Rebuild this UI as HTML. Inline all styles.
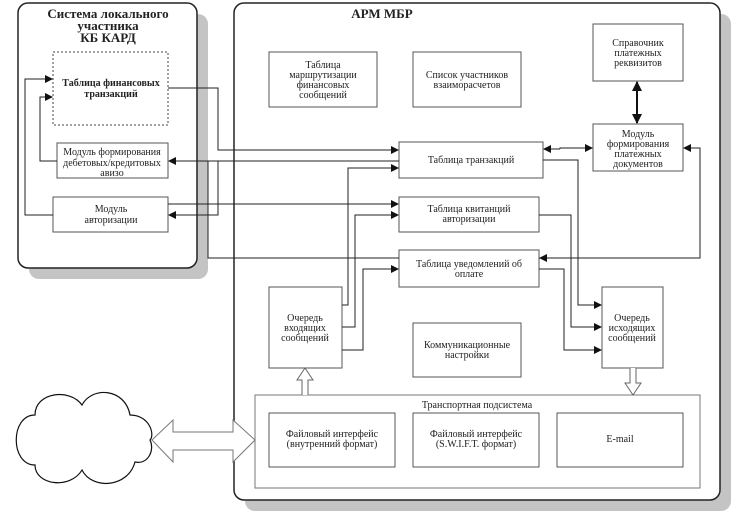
<!DOCTYPE html>
<html><head><meta charset="utf-8"><style>
html,body{margin:0;padding:0;background:#fff;}
svg{display:block;}
text{font-family:"Liberation Serif",serif;fill:#222;}
.s{font-size:10px;}
.b{font-size:13px;font-weight:bold;}
.bx{fill:#fff;stroke:#555;stroke-width:1;}
.l{fill:none;stroke:#222;stroke-width:1;}
</style></head><body>
<svg width="734" height="518" viewBox="0 0 734 518" xmlns="http://www.w3.org/2000/svg">
<defs>
<marker id="a" markerWidth="8" markerHeight="8" refX="7" refY="4" orient="auto" markerUnits="userSpaceOnUse"><path d="M0,0 L8,4 L0,8 Z" fill="#111"/></marker>
<marker id="a2" markerWidth="10" markerHeight="10" refX="9" refY="5" orient="auto" markerUnits="userSpaceOnUse"><path d="M0,0 L10,5 L0,10 Z" fill="#111"/></marker>
</defs>
<!-- left container -->
<rect x="29" y="14" width="179" height="265" rx="10" fill="#c4c4c4"/>
<rect x="18" y="3" width="179" height="265" rx="10" fill="#fff" stroke="#222" stroke-width="1.5"/>
<text class="b" x="108" y="18" text-anchor="middle">Система локального</text>
<text class="b" x="108" y="30" text-anchor="middle">участника</text>
<text class="b" x="108" y="42" text-anchor="middle">КБ КАРД</text>
<!-- right container -->
<rect x="245" y="14" width="486" height="497" rx="10" fill="#c4c4c4"/>
<rect x="234" y="3" width="486" height="497" rx="10" fill="#fff" stroke="#222" stroke-width="1.5"/>
<text class="b" x="382" y="18" text-anchor="middle">АРМ МБР</text>

<!-- left boxes -->
<rect x="53" y="52" width="115" height="73" fill="#fff" stroke="#444" stroke-dasharray="2,2"/>
<text x="111" y="86" text-anchor="middle" style="font-size:10px;font-weight:bold">Таблица финансовых</text>
<text x="111" y="97" text-anchor="middle" style="font-size:10px;font-weight:bold">транзакций</text>
<rect class="bx" x="57" y="143" width="111" height="35"/>
<text class="s" x="112" y="155" text-anchor="middle">Модуль формирования</text>
<text class="s" x="112" y="166" text-anchor="middle">дебетовых/кредитовых</text>
<text class="s" x="112" y="176" text-anchor="middle">авизо</text>
<rect class="bx" x="53" y="197" width="115" height="35"/>
<text class="s" x="111" y="212" text-anchor="middle">Модуль</text>
<text class="s" x="111" y="223" text-anchor="middle">авторизации</text>

<!-- right boxes -->
<rect class="bx" x="269" y="52" width="108" height="55"/>
<text class="s" x="323" y="68" text-anchor="middle">Таблица</text>
<text class="s" x="323" y="78" text-anchor="middle">маршрутизации</text>
<text class="s" x="323" y="88" text-anchor="middle">финансовых</text>
<text class="s" x="323" y="98" text-anchor="middle">сообщений</text>
<rect class="bx" x="413" y="52" width="108" height="55"/>
<text class="s" x="467" y="78" text-anchor="middle">Список участников</text>
<text class="s" x="467" y="88" text-anchor="middle">взаиморасчетов</text>
<rect class="bx" x="593" y="24" width="90" height="57"/>
<text class="s" x="638" y="46" text-anchor="middle">Справочник</text>
<text class="s" x="638" y="56" text-anchor="middle">платежных</text>
<text class="s" x="638" y="66" text-anchor="middle">реквизитов</text>
<rect class="bx" x="593" y="124" width="90" height="47"/>
<text class="s" x="638" y="137" text-anchor="middle">Модуль</text>
<text class="s" x="638" y="147" text-anchor="middle">формирования</text>
<text class="s" x="638" y="157" text-anchor="middle">платежных</text>
<text class="s" x="638" y="167" text-anchor="middle">документов</text>
<rect class="bx" x="399" y="142" width="144" height="36"/>
<text class="s" x="471" y="163" text-anchor="middle">Таблица транзакций</text>
<rect class="bx" x="399" y="197" width="140" height="35"/>
<text class="s" x="469" y="212" text-anchor="middle">Таблица квитанций</text>
<text class="s" x="469" y="222" text-anchor="middle">авторизации</text>
<rect class="bx" x="399" y="250" width="140" height="37"/>
<text class="s" x="469" y="267" text-anchor="middle">Таблица уведомлений об</text>
<text class="s" x="469" y="277" text-anchor="middle">оплате</text>
<rect class="bx" x="269" y="287" width="73" height="81"/>
<text class="s" x="305" y="321" text-anchor="middle">Очередь</text>
<text class="s" x="305" y="331" text-anchor="middle">входящих</text>
<text class="s" x="305" y="341" text-anchor="middle">сообщений</text>
<rect class="bx" x="413" y="323" width="108" height="54"/>
<text class="s" x="467" y="348" text-anchor="middle">Коммуникационные</text>
<text class="s" x="467" y="358" text-anchor="middle">настройки</text>
<rect class="bx" x="602" y="287" width="61" height="81"/>
<text class="s" x="632" y="321" text-anchor="middle">Очередь</text>
<text class="s" x="632" y="331" text-anchor="middle">исходящих</text>
<text class="s" x="632" y="341" text-anchor="middle">сообщений</text>

<!-- transport -->
<rect x="255" y="395" width="445" height="93" fill="#fff" stroke="#777"/>
<text class="s" x="477" y="408" text-anchor="middle">Транспортная подсистема</text>
<rect class="bx" x="269" y="413" width="126" height="54"/>
<text class="s" x="332" y="437" text-anchor="middle">Файловый интерфейс</text>
<text class="s" x="332" y="447" text-anchor="middle">(внутренний формат)</text>
<rect class="bx" x="413" y="413" width="126" height="54"/>
<text class="s" x="476" y="437" text-anchor="middle">Файловый интерфейс</text>
<text class="s" x="476" y="447" text-anchor="middle">(S.W.I.F.T. формат)</text>
<rect class="bx" x="557" y="413" width="126" height="54"/>
<text class="s" x="620" y="442" text-anchor="middle">E-mail</text>

<!-- hollow arrows -->
<path d="M302,395 V380 H297 L305,368 L313,380 H308 V395" fill="#fff" stroke="#666"/>
<path d="M630,368 V383 H625 L633,395 L641,383 H636 V368" fill="#fff" stroke="#666"/>
<path d="M152,440 L173,420 V432 H233 V420 L255,440 L233,462 V450 H173 V462 Z" fill="#fff" stroke="#777"/>
<!-- cloud -->
<path d="M35,415 C35,392 70,388 82,405 C92,386 125,388 130,415 C150,415 155,435 150,440 C155,450 148,465 135,462 C128,488 92,490 82,470 C70,490 35,485 35,465 C10,465 10,415 35,415 Z" fill="#fff" stroke="#111" stroke-width="1.2"/>

<!-- connectors left -->
<path class="l" d="M53,215 H25 V79 H52" marker-end="url(#a)"/>
<path class="l" d="M57,161 H40 V97 H52" marker-end="url(#a)"/>
<path class="l" d="M168,88 H218 V150 H398" marker-end="url(#a)"/>
<path class="l" d="M399,161 H169" marker-end="url(#a)"/>
<path class="l" d="M218,161 V215 H169" marker-end="url(#a)"/>
<path class="l" d="M168,204 H398" marker-end="url(#a)"/>
<path class="l" d="M208,161 V258 H399"/>
<path class="l" d="M539,258 H700 V148 H684" marker-end="url(#a)"/>
<path class="l" d="M560,258 H540" marker-end="url(#a)"/>
<!-- from incoming queue -->
<path class="l" d="M342,305 H348 V168 H398" marker-end="url(#a)"/>
<path class="l" d="M342,327 H355 V215 H398" marker-end="url(#a)"/>
<path class="l" d="M342,350 H363 V269 H398" marker-end="url(#a)"/>
<!-- to outgoing queue -->
<path class="l" d="M543,160 H578 V305 H601" marker-end="url(#a)"/>
<path class="l" d="M539,215 H571 V327 H601" marker-end="url(#a)"/>
<path class="l" d="M539,269 H564 V350 H601" marker-end="url(#a)"/>
<!-- tx <-> module -->
<path class="l" d="M560,149 H544" marker-end="url(#a)"/>
<path class="l" d="M560,149 V148 H592" marker-end="url(#a)"/>
<!-- spravochnik <-> module -->
<path d="M637,100 V82" stroke="#111" stroke-width="2" marker-end="url(#a2)"/>
<path d="M637,100 V123" stroke="#111" stroke-width="2" marker-end="url(#a2)"/>
</svg>
</body></html>
